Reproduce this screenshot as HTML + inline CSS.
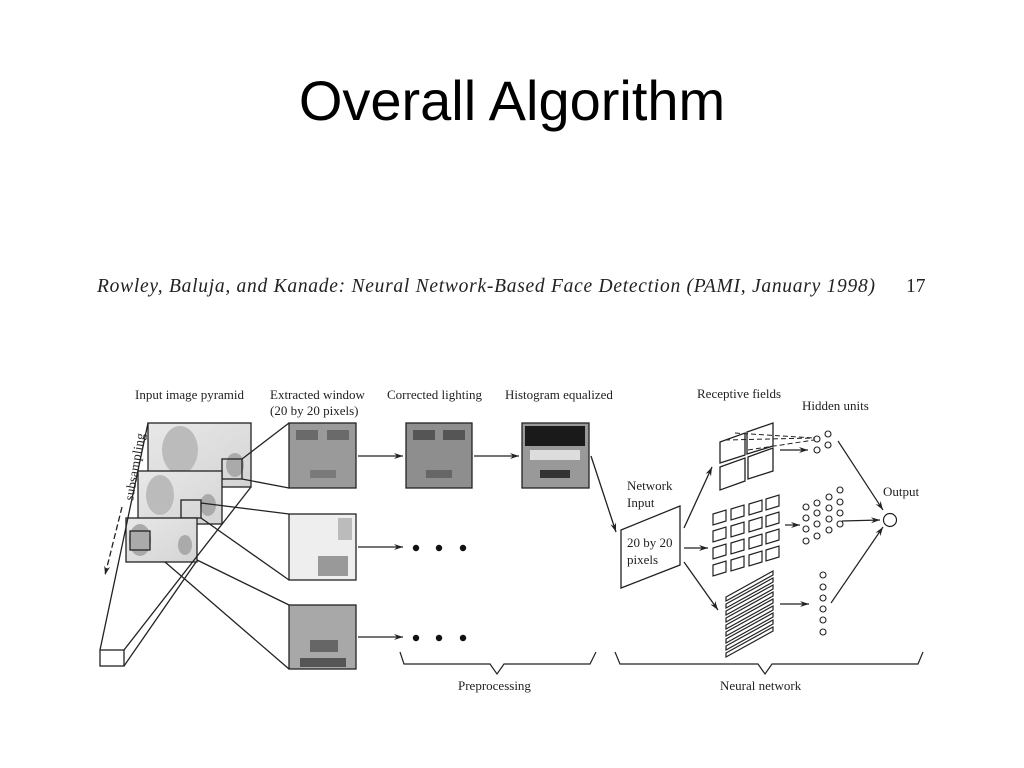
<!DOCTYPE html>
<html><head><meta charset="utf-8"><style>
html,body{margin:0;padding:0;background:#fff;}
svg{display:block}
</style></head><body>
<svg width="1024" height="768" viewBox="0 0 1024 768" xmlns="http://www.w3.org/2000/svg">
<defs>
<marker id="ah" markerWidth="10" markerHeight="8" refX="9" refY="4" orient="auto" markerUnits="userSpaceOnUse"><path d="M0,1 L9,4 L0,7 L3,4z" fill="#222"/></marker>
<linearGradient id="bg1" x1="0" y1="0" x2="1" y2="1"><stop offset="0" stop-color="#e8e8e8"/><stop offset="1" stop-color="#d4d4d4"/></linearGradient>
</defs>
<text x="512" y="120" font-family="Liberation Sans, sans-serif" font-size="56" text-anchor="middle" fill="#000">Overall Algorithm</text>
<text x="97" y="292" font-family="Liberation Serif, serif" font-style="italic" font-size="19.5" fill="#222" textLength="778">Rowley, Baluja, and Kanade: Neural Network-Based Face Detection (PAMI, January 1998)</text>
<text x="906" y="292" font-family="Liberation Serif, serif" font-size="19.5" fill="#222">17</text>

<g font-family="Liberation Serif, serif" font-size="13" fill="#222">
<text x="135" y="399">Input image pyramid</text>
<text x="270" y="399">Extracted window</text>
<text x="270" y="415">(20 by 20 pixels)</text>
<text x="387" y="399">Corrected lighting</text>
<text x="505" y="399">Histogram equalized</text>
<text x="697" y="398">Receptive fields</text>
<text x="802" y="410">Hidden units</text>
<text x="627" y="490">Network</text>
<text x="627" y="507">Input</text>
<text x="627" y="547">20 by 20</text>
<text x="627" y="564">pixels</text>
<text x="883" y="496">Output</text>
<text x="458" y="690">Preprocessing</text>
<text x="720" y="690">Neural network</text>
<text transform="translate(133,501) rotate(-80)" textLength="68">subsampling</text>
</g>

<g stroke="#222" fill="none" stroke-width="1.3">
<line x1="122" y1="507" x2="105" y2="575" stroke-dasharray="6,3" marker-end="url(#ah)"/>
<rect x="148" y="423" width="103" height="64" fill="url(#bg1)"/>
<ellipse cx="180" cy="450" rx="18" ry="24" fill="#bbb" stroke="none"/>
<ellipse cx="235" cy="465" rx="9" ry="12" fill="#aaa" stroke="none"/>
<rect x="222" y="459" width="20" height="20"/>
<rect x="138" y="471" width="84" height="53" fill="url(#bg1)"/>
<ellipse cx="160" cy="495" rx="14" ry="20" fill="#bbb" stroke="none"/>
<ellipse cx="208" cy="505" rx="8" ry="11" fill="#aaa" stroke="none"/>
<rect x="181" y="500" width="20" height="18"/>
<rect x="126" y="518" width="71" height="44" fill="url(#bg1)"/>
<ellipse cx="140" cy="540" rx="11" ry="16" fill="#aaa" stroke="none"/>
<ellipse cx="185" cy="545" rx="7" ry="10" fill="#aaa" stroke="none"/>
<rect x="130" y="531" width="20" height="19"/>
<rect x="100" y="650" width="24" height="16" fill="#fff"/>
<line x1="148" y1="423" x2="100" y2="650"/>
<line x1="251" y1="487" x2="124" y2="650"/>
<line x1="124" y1="666" x2="196" y2="562"/>
<line x1="242" y1="459" x2="289" y2="423"/>
<line x1="242" y1="479" x2="289" y2="488"/>
<line x1="201" y1="503" x2="289" y2="514"/>
<line x1="201" y1="518" x2="289" y2="580"/>
<line x1="197" y1="560" x2="289" y2="605"/>
<line x1="165" y1="562" x2="289" y2="669"/>
</g>

<g stroke="#222" stroke-width="1.3">
<rect x="289" y="423" width="67" height="65" fill="#9a9a9a"/>
<rect x="289" y="514" width="67" height="66" fill="#eee"/>
<rect x="289" y="605" width="67" height="64" fill="#a8a8a8"/>
<rect x="406" y="423" width="66" height="65" fill="#8e8e8e"/>
<rect x="522" y="423" width="67" height="65" fill="#999"/>
</g>
<g stroke="none">
<rect x="296" y="430" width="22" height="10" fill="#6a6a6a"/><rect x="327" y="430" width="22" height="10" fill="#6a6a6a"/>
<rect x="310" y="470" width="26" height="8" fill="#7a7a7a"/>
<rect x="413" y="430" width="22" height="10" fill="#555"/><rect x="443" y="430" width="22" height="10" fill="#555"/>
<rect x="426" y="470" width="26" height="8" fill="#666"/>
<rect x="525" y="426" width="60" height="20" fill="#1a1a1a"/>
<rect x="530" y="450" width="50" height="10" fill="#ddd"/>
<rect x="540" y="470" width="30" height="8" fill="#333"/>
<rect x="318" y="556" width="30" height="20" fill="#999"/>
<rect x="338" y="518" width="14" height="22" fill="#bbb"/>
<rect x="310" y="640" width="28" height="12" fill="#666"/>
<rect x="300" y="658" width="46" height="9" fill="#555"/>
</g>

<g stroke="#222" fill="none" stroke-width="1.3">
<line x1="358" y1="456" x2="403" y2="456" marker-end="url(#ah)"/>
<line x1="474" y1="456" x2="519" y2="456" marker-end="url(#ah)"/>
<line x1="358" y1="547" x2="403" y2="547" marker-end="url(#ah)"/>
<line x1="358" y1="637" x2="403" y2="637" marker-end="url(#ah)"/>
<line x1="591" y1="456" x2="616" y2="532" marker-end="url(#ah)"/>
<polygon points="621,530 680,506 680,565 621,588"/>
<line x1="684" y1="548" x2="708" y2="548" marker-end="url(#ah)"/>
<line x1="684" y1="528" x2="712" y2="467" marker-end="url(#ah)"/>
<line x1="684" y1="562" x2="718" y2="610" marker-end="url(#ah)"/>
<polygon points="720,442 745,433 745,455 720,463"/>
<polygon points="747,432 773,423 773,446 747,454"/>
<polygon points="720,467 745,458 745,481 720,490"/>
<polygon points="748,457 773,448 773,471 748,479"/>
<g stroke-dasharray="5,3" stroke-width="1">
<line x1="725" y1="440" x2="814" y2="438"/>
<line x1="735" y1="433" x2="814" y2="438"/>
<line x1="748" y1="450" x2="814" y2="440"/>
</g>
<line x1="780" y1="450" x2="808" y2="450" marker-end="url(#ah)"/>
</g>
<g stroke="#222" fill="none" stroke-width="1.2">
<polygon points="713,514 726,510 726,521 713,525"/><polygon points="731,509 744,505 744,516 731,520"/><polygon points="749,504 762,500 762,511 749,515"/><polygon points="766,499 779,495 779,506 766,510"/>
<polygon points="713,531 726,527 726,538 713,542"/><polygon points="731,526 744,522 744,533 731,537"/><polygon points="749,521 762,517 762,528 749,532"/><polygon points="766,516 779,512 779,523 766,527"/>
<polygon points="713,548 726,544 726,555 713,559"/><polygon points="731,543 744,539 744,550 731,554"/><polygon points="749,538 762,534 762,545 749,549"/><polygon points="766,533 779,529 779,540 766,544"/>
<polygon points="713,565 726,561 726,572 713,576"/><polygon points="731,560 744,556 744,567 731,571"/><polygon points="749,555 762,551 762,562 749,566"/><polygon points="766,550 779,546 779,557 766,561"/>
<polygon points="726,597 773,571 773,575 726,601"/><polygon points="726,604 773,578 773,582 726,608"/><polygon points="726,611 773,585 773,589 726,615"/><polygon points="726,618 773,592 773,596 726,622"/><polygon points="726,625 773,599 773,603 726,629"/><polygon points="726,632 773,606 773,610 726,636"/><polygon points="726,639 773,613 773,617 726,643"/><polygon points="726,646 773,620 773,624 726,650"/><polygon points="726,653 773,627 773,631 726,657"/>
<line x1="785" y1="525" x2="800" y2="525" marker-end="url(#ah)"/>
<line x1="780" y1="604" x2="809" y2="604" marker-end="url(#ah)"/>
<line x1="842" y1="521" x2="880" y2="520" marker-end="url(#ah)"/>
<line x1="838" y1="441" x2="883" y2="510" marker-end="url(#ah)"/>
<line x1="831" y1="603" x2="883" y2="527" marker-end="url(#ah)"/>
<circle cx="890" cy="520" r="6.5"/>
</g>
<g stroke="#222" fill="#fff" stroke-width="1.1">
<circle cx="817" cy="439" r="3"/><circle cx="817" cy="450" r="3"/><circle cx="828" cy="434" r="3"/><circle cx="828" cy="445" r="3"/>
<circle cx="806" cy="507" r="3"/><circle cx="806" cy="518" r="3"/><circle cx="806" cy="529" r="3"/><circle cx="806" cy="541" r="3"/>
<circle cx="817" cy="503" r="3"/><circle cx="817" cy="513" r="3"/><circle cx="817" cy="524" r="3"/><circle cx="817" cy="536" r="3"/>
<circle cx="829" cy="497" r="3"/><circle cx="829" cy="508" r="3"/><circle cx="829" cy="519" r="3"/><circle cx="829" cy="530" r="3"/>
<circle cx="840" cy="490" r="3"/><circle cx="840" cy="502" r="3"/><circle cx="840" cy="513" r="3"/><circle cx="840" cy="524" r="3"/>
<circle cx="823" cy="575" r="3"/><circle cx="823" cy="587" r="3"/><circle cx="823" cy="598" r="3"/><circle cx="823" cy="609" r="3"/><circle cx="823" cy="620" r="3"/><circle cx="823" cy="632" r="3"/>
</g>
<g fill="#111">
<circle cx="416" cy="548" r="3.2"/><circle cx="439" cy="548" r="3.2"/><circle cx="463" cy="548" r="3.2"/>
<circle cx="416" cy="638" r="3.2"/><circle cx="439" cy="638" r="3.2"/><circle cx="463" cy="638" r="3.2"/>
</g>
<g stroke="#222" fill="none" stroke-width="1.2">
<path d="M400,652 L404,664 L490,664 L497,674 L504,664 L590,664 L596,652"/>
<path d="M615,652 L620,664 L758,664 L765,674 L772,664 L918,664 L923,652"/>
</g>
</svg>
</body></html>
